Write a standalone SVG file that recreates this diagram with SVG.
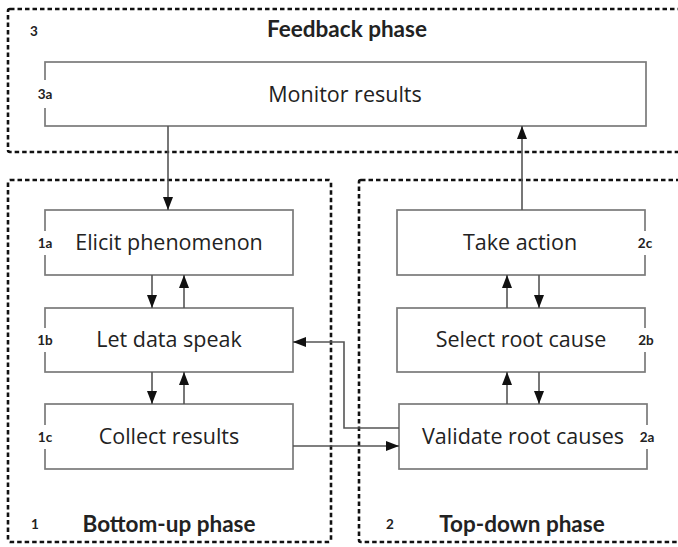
<svg xmlns="http://www.w3.org/2000/svg" width="678" height="547" viewBox="0 0 678 547">
  <style>
    .phase { fill: none; stroke: #111; stroke-width: 2.6; stroke-dasharray: 4.5 3; }
    .box { fill: #fff; stroke: #7a7a7a; stroke-width: 1.7; }
    .gap { fill: #fff; stroke: none; }
    .lbl { font-family: "Open Sans", "DejaVu Sans", sans-serif; font-size: 21.5px; fill: #222; text-anchor: middle; }
    .tag { font-family: "Lato", "Liberation Sans", sans-serif; font-size: 13.5px; font-weight: bold; fill: #222; text-anchor: middle; }
    .head { font-family: "Lato", "Liberation Sans", sans-serif; font-size: 22.5px; font-weight: bold; fill: #222; text-anchor: middle; }
    .conn { fill: none; stroke: #555; stroke-width: 1.6; }
  </style>
  <defs>
    <marker id="arrow" markerUnits="userSpaceOnUse" markerWidth="14" markerHeight="11" refX="13" refY="5" orient="auto">
      <path d="M0,0 L13,5 L0,10 z" fill="#111"/>
    </marker>
  </defs>

  <rect width="678" height="547" fill="#fff"/>

  <!-- phase frames -->
  <g id="phase-feedback">
    <rect class="phase" x="8" y="9" width="690" height="143" rx="2"/>
    <text class="tag" x="34" y="36">3</text>
    <text class="head" x="347" y="37">Feedback phase</text>
  </g>
  <g id="phase-bottom-up">
    <rect class="phase" x="8" y="180" width="323" height="362" rx="2"/>
    <text class="tag" x="35" y="529">1</text>
    <text class="head" x="169" y="532">Bottom-up phase</text>
  </g>
  <g id="phase-top-down">
    <rect class="phase" x="359" y="180" width="340" height="362" rx="2"/>
    <text class="tag" x="390" y="529">2</text>
    <text class="head" x="522" y="532">Top-down phase</text>
  </g>

  <!-- steps -->
  <g id="step-3a">
    <rect class="box" x="45" y="62" width="601" height="64"/>
    <rect class="gap" x="35" y="80" width="20" height="28"/>
    <text class="tag" x="45" y="99">3a</text>
    <text class="lbl" x="345" y="102">Monitor results</text>
  </g>
  <g id="step-1a">
    <rect class="box" x="45" y="210" width="248" height="65"/>
    <rect class="gap" x="35" y="231" width="20" height="24"/>
    <text class="tag" x="45" y="248">1a</text>
    <text class="lbl" x="169" y="250">Elicit phenomenon</text>
  </g>
  <g id="step-1b">
    <rect class="box" x="45" y="308" width="248" height="64"/>
    <rect class="gap" x="35" y="328" width="20" height="24"/>
    <text class="tag" x="45" y="345">1b</text>
    <text class="lbl" x="169" y="347">Let data speak</text>
  </g>
  <g id="step-1c">
    <rect class="box" x="45" y="404" width="248" height="65"/>
    <rect class="gap" x="35" y="425" width="20" height="24"/>
    <text class="tag" x="45" y="442">1c</text>
    <text class="lbl" x="169" y="444">Collect results</text>
  </g>
  <g id="step-2c">
    <rect class="box" x="397" y="210" width="248" height="65"/>
    <rect class="gap" x="635" y="231" width="20" height="24"/>
    <text class="tag" x="645" y="248">2c</text>
    <text class="lbl" x="520" y="250">Take action</text>
  </g>
  <g id="step-2b">
    <rect class="box" x="397" y="308" width="248" height="64"/>
    <rect class="gap" x="635" y="328" width="20" height="24"/>
    <text class="tag" x="646" y="345">2b</text>
    <text class="lbl" x="521" y="347">Select root cause</text>
  </g>
  <g id="step-2a">
    <rect class="box" x="399" y="404" width="248" height="65"/>
    <rect class="gap" x="637" y="425" width="20" height="24"/>
    <text class="tag" x="647" y="442">2a</text>
    <text class="lbl" x="523" y="444">Validate root causes</text>
  </g>

  <!-- connectors -->
  <g id="connectors">
    <path class="conn" d="M168,126 V210" marker-end="url(#arrow)"/>
    <path class="conn" d="M152,275 V308" marker-end="url(#arrow)"/>
    <path class="conn" d="M184,308 V275" marker-end="url(#arrow)"/>
    <path class="conn" d="M152,372 V404" marker-end="url(#arrow)"/>
    <path class="conn" d="M184,404 V372" marker-end="url(#arrow)"/>
    <path class="conn" d="M293,446 H399" marker-end="url(#arrow)"/>
    <path class="conn" d="M399,428 H344 V342 H293" marker-end="url(#arrow)"/>
    <path class="conn" d="M507,404 V372" marker-end="url(#arrow)"/>
    <path class="conn" d="M539,372 V404" marker-end="url(#arrow)"/>
    <path class="conn" d="M507,308 V275" marker-end="url(#arrow)"/>
    <path class="conn" d="M539,275 V308" marker-end="url(#arrow)"/>
    <path class="conn" d="M522,210 V126" marker-end="url(#arrow)"/>
  </g>
</svg>
